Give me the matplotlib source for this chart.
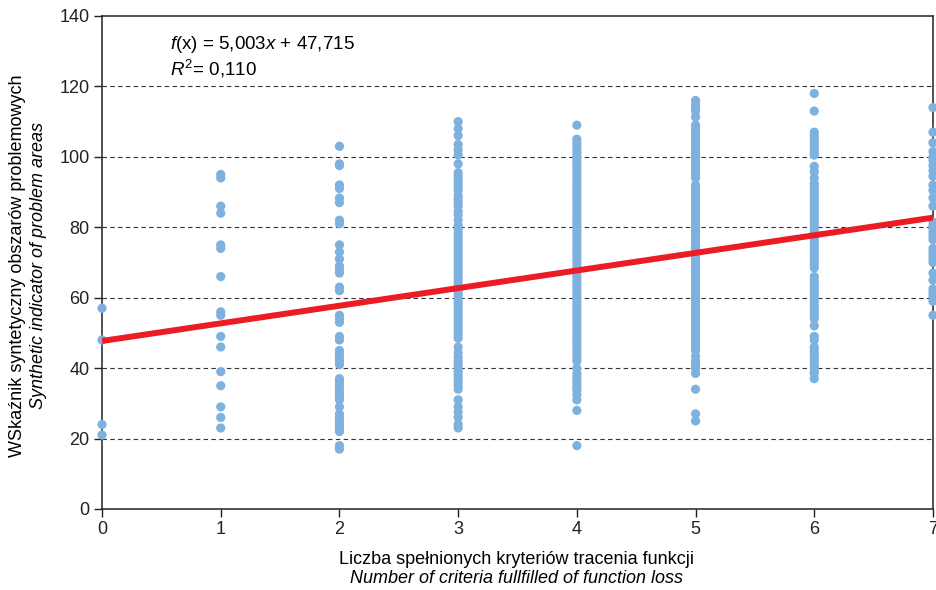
import numpy as np
import matplotlib
matplotlib.use('Agg')
import matplotlib.pyplot as plt

# dane: wartości wskaźnika dla każdej liczby kryteriów
col0 = [57, 48, 24, 21]
col1 = [95, 94, 86, 84, 75, 74, 66, 56, 55, 49, 46, 39, 35, 29, 26, 23]
col2 = [103, 98, 97.5, 92, 91, 88.3, 87, 82, 81, 75, 73, 71, 69, 68, 67,
        63, 62, 55, 54, 53, 49, 48, 45, 44, 43, 42, 41, 37, 36, 35, 34, 33,
        32, 31, 29, 27, 26, 25, 24, 23, 22, 18, 17]
col3 = [110, 108, 106, 103.5, 102, 100.5, 98, 95.5, 94.5, 93.5, 92.5, 91.5,
        90.5, 89, 88, 87, 86, 84.5, 83.5, 82, 80.5, 79.5, 78.5, 77.5, 76.5,
        75.5, 74.5, 73.5, 72.5, 71.5, 70.5, 69.5, 68.5, 67.5, 66.5, 65.5,
        64.5, 63.5, 62.5, 61.5, 60.5, 59.5, 58.5, 57.5, 56.5, 55.5, 54.5,
        53.5, 52.5, 51.5, 50.5, 49.5, 48.5, 46, 44.3, 43, 42, 41, 40, 39, 38,
        37, 36, 35, 34, 31, 29, 27.5, 26, 24, 23]
col4 = [109, 105, 104, 103, 102, 101, 100, 99, 98, 97, 96, 95, 94, 93, 92,
        91, 90, 89, 88, 87, 86, 85, 84, 83, 82, 81, 80, 79, 78, 77, 76, 75,
        74, 73, 72, 71, 70, 69, 68, 67, 66, 65, 64, 63, 62, 61, 60, 59, 58,
        57, 56, 55, 54, 53, 52, 51, 50, 49, 48, 47, 46, 45, 44, 43, 42, 40,
        38.5, 37.5, 36.5, 35.5, 34.5, 33.8, 32.5, 31, 28, 18]
col5 = [116, 115, 114, 113, 111.3, 109, 108, 107, 106, 105, 104, 103, 102,
        101, 100, 99, 98, 97, 96, 95, 94, 92, 91, 90, 89, 88, 87, 86, 85, 84,
        83, 82, 81, 80, 79, 78, 77, 76, 75, 74, 73, 72, 71, 70, 69, 68, 67,
        66, 65, 64, 63, 62, 61, 60, 59, 58, 57, 56, 55, 54, 53, 52, 51, 50,
        49, 48, 47, 46, 45, 43.3, 42, 41, 40, 38.5, 34, 27, 25]
col6 = [118, 113, 107, 106, 105, 104, 103, 102, 101, 100.5, 97.3, 95.8, 94,
        92.5, 91.5, 90.5, 89.5, 88.5, 87.5, 86.5, 85.5, 84.5, 83.5, 82.5,
        81.5, 80.5, 79.5, 78.5, 77.5, 76.5, 75.5, 74.5, 73.5, 72.5, 71.5,
        70.5, 69.5, 68.5, 66, 65, 64, 63, 62, 61, 60, 59, 58, 57, 56, 55, 54,
        52, 49, 48, 46, 45, 44, 43, 42, 41, 40, 39, 38.5, 37]
col7 = [114, 107, 104, 101.5, 100, 99, 97.5, 96, 94.5, 92, 90.5, 88.3, 86,
        81.5, 80.5, 79.5, 78.5, 77.5, 76.5, 74, 73, 72, 71, 70, 67, 65, 62.5,
        61.5, 60.5, 59, 55]
columns = [col0, col1, col2, col3, col4, col5, col6, col7]

slope = 5.003
intercept = 47.715
r2 = 0.110

plt.rcParams['font.family'] = ['Liberation Sans', 'DejaVu Sans']
plt.rcParams['mathtext.fontset'] = 'custom'
plt.rcParams['mathtext.rm'] = 'Liberation Sans'
plt.rcParams['mathtext.it'] = 'Liberation Sans:italic'

fig = plt.figure(figsize=(9.37, 5.9), dpi=100)
ax = fig.add_axes([0.1089, 0.1373, 0.8868, 0.8356])

# punkty
for i, col in enumerate(columns):
    xs = np.full(len(col), i)
    ax.scatter(xs, col, s=44, color='#7fb1df', edgecolors='none',
               zorder=3, clip_on=False)

# linia trendu
xl = np.array([0, 7])
ax.plot(xl, slope * xl + intercept, color='#ec1c24', lw=4.3,
        solid_capstyle='butt', zorder=4)

ax.set_xlim(0, 7)
ax.set_ylim(0, 140)
ax.set_xticks(range(0, 8))
ax.set_yticks(range(0, 141, 20))
for y in range(20, 121, 20):
    ax.axhline(y, color='#333333', lw=0.8, ls=(0, (4, 3)), zorder=1)

ax.tick_params(direction='out', length=6, width=1, labelsize=13,
               colors='#222222', pad=3)
for sp in ax.spines.values():
    sp.set_linewidth(1.1)
    sp.set_color('#222222')

ax.text(0.57, 132, r'$f$(x) = 5,003$x$ + 47,715', fontsize=13.5,
        va='center')
ax.text(0.57, 125, r'$R^2$= 0,110', fontsize=13.5, va='center')

fig.text(0.5515, 0.051, 'Liczba spełnionych kryteriów tracenia funkcji',
         ha='center', va='center', fontsize=13)
fig.text(0.5515, 0.019, 'Number of criteria fullfilled of function loss',
         ha='center', va='center', fontsize=13, style='italic')
fig.text(0.019, 0.55, 'WSkaźnik syntetyczny obszarów problemowych',
         ha='center', va='center', rotation=90, fontsize=13)
fig.text(0.041, 0.55, 'Synthetic indicator of problem areas',
         ha='center', va='center', rotation=90, fontsize=13, style='italic')

fig.savefig('out.png', dpi=100)
